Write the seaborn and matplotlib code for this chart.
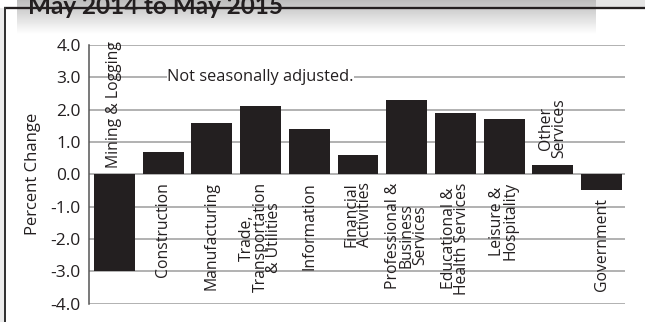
import numpy as np
import pandas as pd
import matplotlib
matplotlib.use("Agg")
import matplotlib.pyplot as plt
import seaborn as sns

# Over-the-year change in nonfarm employment by industry supersector
industries = [
    "Mining & Logging",
    "Construction",
    "Manufacturing",
    "Trade,\nTransportation\n& Utilities",
    "Information",
    "Financial\nActivities",
    "Professional &\nBusiness\nServices",
    "Educational &\nHealth Services",
    "Leisure &\nHospitality",
    "Other\nServices",
    "Government",
]
pct_change = [-3.0, 0.7, 1.6, 2.1, 1.4, 0.6, 2.3, 1.9, 1.7, 0.3, -0.5]
# industries whose name is written above the zero line
labels_above = ["Mining & Logging", "Other\nServices"]
y_ticks = [-4.0, -3.0, -2.0, -1.0, 0.0, 1.0, 2.0, 3.0, 4.0]
title = "May 2014 to May 2015"
note = "Not seasonally adjusted."

W, H, DPI = 645, 322, 100
BAR = "#231f20"
GRID = "#9d9d9d"

sns.set_style("white")
plt.rcParams["font.family"] = ["Open Sans", "DejaVu Sans"]

df = pd.DataFrame({"industry": industries, "change": pct_change})

fig = plt.figure(figsize=(W / DPI, H / DPI), dpi=DPI)

# ---- page decoration: shaded header band and frame lines (pixel coords)
bg = fig.add_axes([0, 0, 1, 1], zorder=0)
bg.set_xlim(0, W)
bg.set_ylim(H, 0)
bg.axis("off")
grad = np.linspace(0.74, 1.0, 64).reshape(-1, 1)
bg.imshow(grad, cmap="gray", vmin=0, vmax=1, aspect="auto",
          extent=(17, 596, 34, 0), interpolation="bilinear", zorder=0)
bg.add_patch(plt.Rectangle((596, 0), W - 596, 8, color="#e4e4e4", lw=0, zorder=1))
bg.add_patch(plt.Rectangle((0, 8), 4, H - 8, color="#ececec", lw=0, zorder=1))
bg.plot([4, W], [8, 8], color=BAR, lw=2.3 * 0.72, solid_capstyle="butt", zorder=3)
bg.plot([5, 5], [7, H], color="#333333", lw=2.0 * 0.72, solid_capstyle="butt", zorder=3)

fig.text(28 / W, 1 - 14.5 / H, title, fontsize=17.5, fontweight="bold",
         family=["Lato", "DejaVu Sans"], color=BAR, ha="left", va="baseline",
         zorder=5)

# ---- bar chart
ax = fig.add_axes([89 / W, 1 - 303.5 / H, (625 - 89) / W, (303.5 - 45) / H], zorder=2)
ax.patch.set_visible(False)
sns.barplot(data=df, x="industry", y="change", color=BAR, saturation=1,
            width=0.84, ax=ax, zorder=2)
for p in ax.patches:
    p.set_edgecolor("none")

ax.set_xlim(-0.52, 10.48)
ax.set_ylim(-4.0, 4.0)
ax.set_yticks(y_ticks)
ax.set_yticklabels([f"{v:.1f}" for v in y_ticks], fontsize=12.5, color="#231f20")
ax.tick_params(axis="y", length=0, pad=6)
ax.set_xticks([])
ax.set_xlabel("")
ax.set_ylabel("Percent Change", fontsize=12, color="#231f20", va="center")
ax.yaxis.set_label_coords(-0.104, 0.5)

ax.set_axisbelow(True)
ax.yaxis.grid(True, color=GRID, lw=1.1)
for s in ["top", "right", "bottom"]:
    ax.spines[s].set_visible(False)
ax.spines["left"].set_color("#555555")
ax.spines["left"].set_linewidth(1.1)

for i, (name, val) in enumerate(zip(industries, pct_change)):
    if name in labels_above:
        y = max(val, 0) + 0.2
        va = "bottom"
    else:
        y = min(val, 0) - 0.25
        va = "top"
    ax.text(i, y, name, rotation=90, ha="center", va=va, fontsize=11.3,
            multialignment="center", linespacing=0.8, color="#231f20",
            zorder=4)

ax.text(3.0, 3.0, note, ha="center", va="center", fontsize=11.8, color="#231f20",
        bbox=dict(facecolor="white", edgecolor="none", pad=0.5), zorder=4)

fig.savefig("out.png", dpi=DPI)
